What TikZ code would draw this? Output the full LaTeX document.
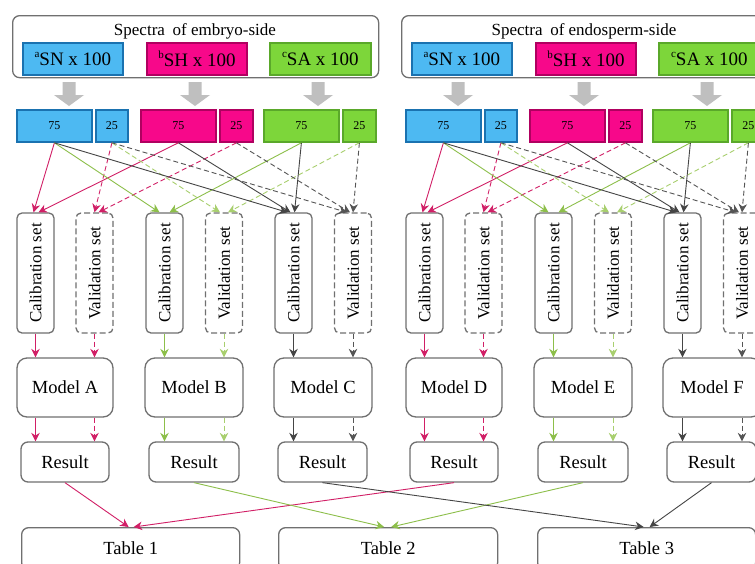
\documentclass[tikz,border=0pt]{standalone}
\usepackage{fontspec}
\usepackage{graphicx}
\setmainfont{Liberation Serif}
\usetikzlibrary{arrows.meta}
\definecolor{bluefill}{HTML}{4DB9F2}
\definecolor{blueedge}{HTML}{1A72B0}
\definecolor{magfill}{HTML}{F7088A}
\definecolor{magedge}{HTML}{B00060}
\definecolor{grnfill}{HTML}{7DD63A}
\definecolor{grnedge}{HTML}{5AA82A}
\definecolor{lmag}{HTML}{D11F66}
\definecolor{lgrn}{HTML}{8DBF4A}
\definecolor{lgrnd}{HTML}{A8CF6E}
\definecolor{lgray}{HTML}{454545}
\definecolor{lgrayd}{HTML}{555555}
\definecolor{edge}{HTML}{707070}
\definecolor{arrowgray}{HTML}{BFBFBF}
\newcommand{\supl}[1]{\raisebox{0.42em}{\fontsize{11}{11}\selectfont #1}}
\begin{document}
\begin{tikzpicture}[x=1pt,y=-1pt,
  rbox/.style={draw=edge, line width=1.3pt, rounded corners=7pt, inner sep=0pt, text=black},
  cbox/.style={line width=1.8pt, inner sep=0pt, anchor=north west, text=black},
  conn/.style={line width=0.9pt, -{Stealth[length=8.5pt,width=8.5pt]}},
  dconn/.style={conn, dash pattern=on 5pt off 3pt},
  f18/.style={font=\fontsize{18.5}{20}\selectfont},
  f19/.style={font=\fontsize{19}{20}\selectfont},
  f16/.style={font=\fontsize{16.5}{18}\selectfont},
  f17/.style={font=\fontsize{17}{18}\selectfont},
  f12/.style={font=\fontsize{12}{13}\selectfont},
  setbox/.style={rbox, rounded corners=5pt, minimum width=37pt, minimum height=120pt, f17},
  valbox/.style={setbox, dash pattern=on 6pt off 3pt},
  modelbox/.style={rbox, rounded corners=10pt, minimum height=59pt, f18},
  resbox/.style={rbox, rounded corners=7pt, minimum height=40pt, f18},
  blockarrow/.style={fill=arrowgray}
]
\useasboundingbox (0,0) rectangle (755,563);
\clip (0,0) rectangle (755,563);
\fill[white] (0,0) rectangle (755,563);

\foreach \p/\dx/\side/\ma/\mb/\mc in {L/0/embryo/A/B/C, R/389/endosperm/D/E/F}{
  % outer spectra box
  \node[rbox, anchor=north west, minimum width=366pt, minimum height=62pt] (\p outer) at ({12+\dx},15) {};
  \node[f17, inner sep=0pt] (\p title) at ({195+\dx},31) {Spectra\hspace{0.45em}of \side-side};
  % coloured spectra boxes
  \node[cbox, fill=bluefill, draw=blueedge, minimum width=100pt, minimum height=32pt, f19] (\p sn) at ({22+\dx},42) {\supl{a}SN x 100};
  \node[cbox, fill=magfill, draw=magedge, minimum width=100pt, minimum height=32pt, f19] (\p sh) at ({146+\dx},42) {\supl{b}SH x 100};
  \node[cbox, fill=grnfill, draw=grnedge, minimum width=101pt, minimum height=32pt, f19] (\p sa) at ({269+\dx},42) {\supl{c}SA x 100};
  % gray block arrows
  \foreach \cx in {69,195,318}{
    \fill[blockarrow] ({\cx+\dx-6.5},82) -- ({\cx+\dx+6.5},82) -- ({\cx+\dx+6.5},95) -- ({\cx+\dx+15},95)
      -- ({\cx+\dx},106) -- ({\cx+\dx-15},95) -- ({\cx+\dx-6.5},95) -- cycle;
  }
  % 75 / 25 split boxes
  \node[cbox, fill=bluefill, draw=blueedge, minimum width=75pt, minimum height=32pt, f12] (\p b75) at ({16+\dx},109) {75};
  \node[cbox, fill=bluefill, draw=blueedge, minimum width=32pt, minimum height=32pt, f12] (\p b25) at ({95+\dx},109) {25};
  \node[cbox, fill=magfill, draw=magedge, minimum width=75pt, minimum height=32pt, f12] (\p m75) at ({140+\dx},109) {75};
  \node[cbox, fill=magfill, draw=magedge, minimum width=33pt, minimum height=32pt, f12] (\p m25) at ({219+\dx},109) {25};
  \node[cbox, fill=grnfill, draw=grnedge, minimum width=75pt, minimum height=32pt, f12] (\p g75) at ({263+\dx},109) {75};
  \node[cbox, fill=grnfill, draw=grnedge, minimum width=33pt, minimum height=32pt, f12] (\p g25) at ({342+\dx},109) {25};
  % calibration / validation sets
  \node[setbox] (\p cal1) at ({35.5+\dx},273) {\rotatebox{90}{Calibration set}};
  \node[valbox] (\p val1) at ({94.5+\dx},273) {\rotatebox{90}{Validation set}};
  \node[setbox] (\p cal2) at ({164.5+\dx},273) {\rotatebox{90}{Calibration set}};
  \node[valbox] (\p val2) at ({224+\dx},273) {\rotatebox{90}{Validation set}};
  \node[setbox] (\p cal3) at ({293.5+\dx},273) {\rotatebox{90}{Calibration set}};
  \node[valbox] (\p val3) at ({353+\dx},273) {\rotatebox{90}{Validation set}};
  % models
  \node[modelbox, minimum width=96pt] (\p ma) at ({65+\dx},387.5) {Model \ma};
  \node[modelbox, minimum width=98pt] (\p mb) at ({194+\dx},387.5) {Model \mb};
  \node[modelbox, minimum width=98pt] (\p mc) at ({323+\dx},387.5) {Model \mc};
  % results
  \node[resbox, minimum width=88pt] (\p ra) at ({65+\dx},462) {Result};
  \node[resbox, minimum width=90pt] (\p rb) at ({194+\dx},462) {Result};
  \node[resbox, minimum width=89pt] (\p rc) at ({322.5+\dx},462) {Result};
  % split -> sets
  \draw[conn, lmag] (\p b75.south) -- ([xshift=-2pt]\p cal1.north);
  \draw[conn, lmag] (\p m75.south) -- ([xshift=3pt]\p cal1.north);
  \draw[dconn, lmag] (\p b25.south) -- ([xshift=0pt]\p val1.north);
  \draw[dconn, lmag] (\p m25.south) -- ([xshift=4pt]\p val1.north);
  \draw[conn, lgrn] (\p b75.south) -- ([xshift=-5pt]\p cal2.north);
  \draw[conn, lgrn] (\p g75.south) -- ([xshift=5pt]\p cal2.north);
  \draw[dconn, lgrnd] (\p b25.south) -- ([xshift=-4pt]\p val2.north);
  \draw[dconn, lgrnd] (\p g25.south) -- ([xshift=4pt]\p val2.north);
  \draw[conn, lgray] (\p b75.south) -- ([xshift=-6pt]\p cal3.north);
  \draw[conn, lgray] (\p m75.south) -- ([xshift=-3pt]\p cal3.north);
  \draw[conn, lgray] (\p g75.south) -- ([xshift=1pt]\p cal3.north);
  \draw[dconn, lgrayd] (\p b25.south) -- ([xshift=-6pt]\p val3.north);
  \draw[dconn, lgrayd] (\p m25.south) -- ([xshift=-3pt]\p val3.north);
  \draw[dconn, lgrayd] (\p g25.south) -- ([xshift=0pt]\p val3.north);
  % sets -> models
  \draw[conn, lmag] (\p cal1.south) -- (\p cal1.south |- \p ma.north);
  \draw[dconn, lmag] (\p val1.south) -- (\p val1.south |- \p ma.north);
  \draw[conn, lgrn] (\p cal2.south) -- (\p cal2.south |- \p mb.north);
  \draw[dconn, lgrnd] (\p val2.south) -- (\p val2.south |- \p mb.north);
  \draw[conn, lgray] (\p cal3.south) -- (\p cal3.south |- \p mc.north);
  \draw[dconn, lgrayd] (\p val3.south) -- (\p val3.south |- \p mc.north);
  % models -> results
  \draw[conn, lmag] (\p ma.south -| \p cal1) -- (\p ra.north -| \p cal1);
  \draw[dconn, lmag] (\p ma.south -| \p val1) -- (\p ra.north -| \p val1);
  \draw[conn, lgrn] (\p mb.south -| \p cal2) -- (\p rb.north -| \p cal2);
  \draw[dconn, lgrnd] (\p mb.south -| \p val2) -- (\p rb.north -| \p val2);
  \draw[conn, lgray] (\p mc.south -| \p cal3) -- (\p rc.north -| \p cal3);
  \draw[dconn, lgrayd] (\p mc.south -| \p val3) -- (\p rc.north -| \p val3);
}

% tables
\node[rbox, anchor=north west, minimum width=218pt, minimum height=42pt, f18] (tab1) at (21,527) {Table 1};
\node[rbox, anchor=north west, minimum width=219pt, minimum height=42pt, f18] (tab2) at (278,527) {Table 2};
\node[rbox, anchor=north west, minimum width=218pt, minimum height=42pt, f18] (tab3) at (537,527) {Table 3};

% results -> tables
\draw[conn, lmag] (Lra.south) -- ([xshift=-2pt]tab1.north);
\draw[conn, lmag] (Rra.south) -- ([xshift=3pt]tab1.north);
\draw[conn, lgrn] (Lrb.south) -- ([xshift=-4pt]tab2.north);
\draw[conn, lgrn] (Rrb.south) -- ([xshift=3pt]tab2.north);
\draw[conn, lgray] (Lrc.south) -- ([xshift=-3pt]tab3.north);
\draw[conn, lgray] (Rrc.south) -- ([xshift=3pt]tab3.north);
\end{tikzpicture}
\end{document}
